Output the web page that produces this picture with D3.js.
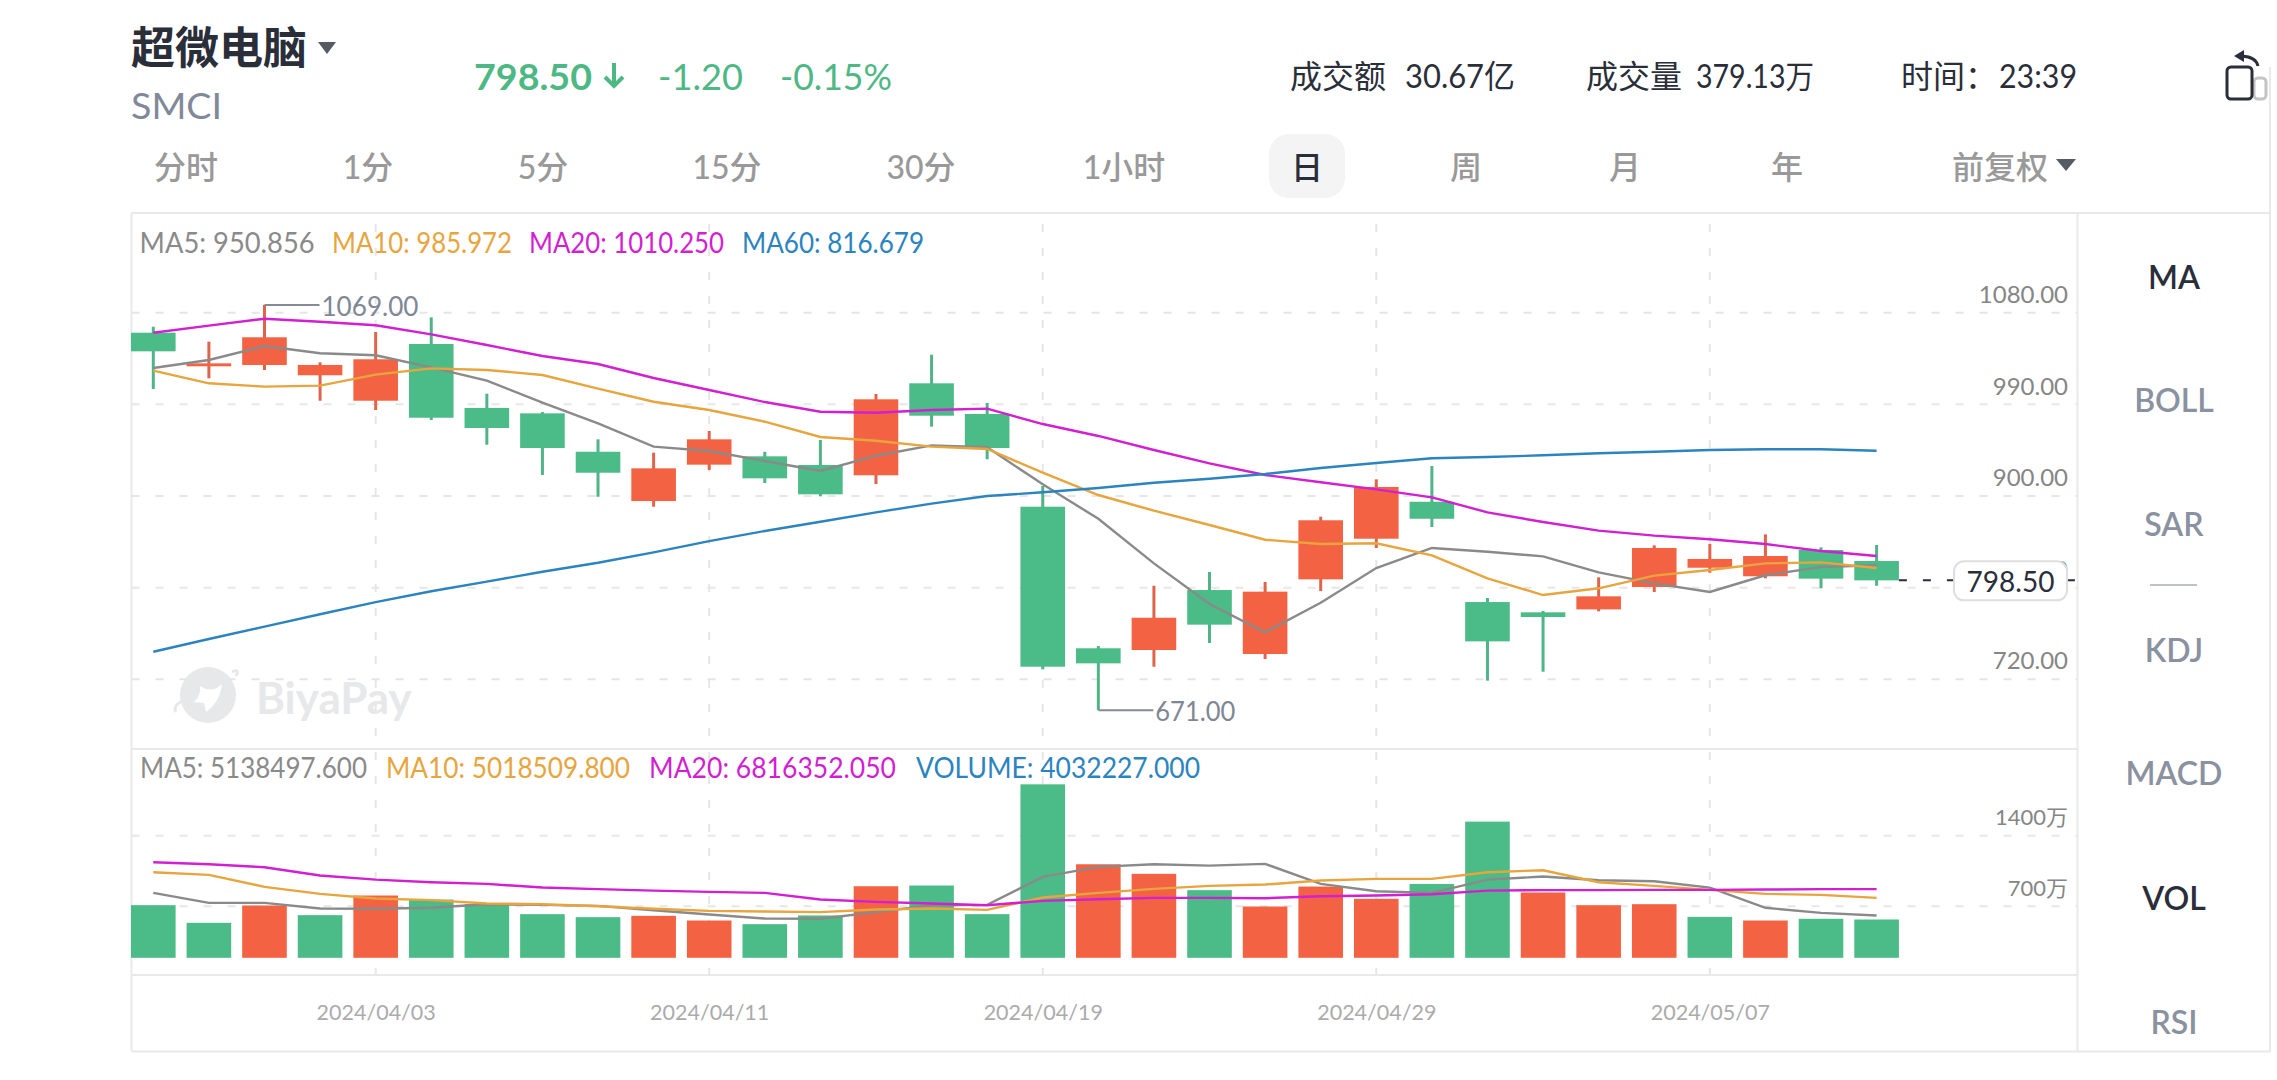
<!DOCTYPE html>
<html><head><meta charset="utf-8">
<script src="https://cdnjs.cloudflare.com/ajax/libs/d3/7.8.5/d3.min.js"></script>
<style>
html,body{margin:0;padding:0;background:#fff;overflow:hidden}
text{font-family:Lato,"Noto Sans CJK SC",sans-serif}
</style></head><body><svg id="c" width="2277" height="1080" xmlns="http://www.w3.org/2000/svg"></svg>
<script>
const dates=["03/27","03/28","04/01","04/02","04/03","04/04","04/05","04/08","04/09","04/10","04/11","04/12","04/15","04/16","04/17","04/18","04/19","04/22","04/23","04/24","04/25","04/26","04/29","04/30","05/01","05/02","05/03","05/06","05/07","05/08","05/09","05/10"].map(d=>"2024/"+d);
const dateTicks=["2024/04/03","2024/04/11","2024/04/19","2024/04/29","2024/05/07"];
const candleOpen=[1041.7,1008.7,1010,999.9,974.9,1030.6,967.8,962.5,924.8,876.4,912.1,920.3,911.8,901.7,992,961.9,870.8,731.8,730.1,789,726.2,799.5,839.4,875.7,777.2,767.1,770,792,810.9,802.5,828.3,817.5];
const candleClose=[1023.4,1011.6,1037.2,1010,1015.6,958.2,948.1,928.5,904.2,908.5,937,898.7,883,976.3,960.2,928.5,713.7,717,761.8,755,787.4,857.5,890.2,859,738.6,762.5,782.8,830.3,819.5,822.4,800.2,798.5];
const candleHigh=[1047.6,1032.9,1069,1012.6,1042.4,1056.8,981.8,963.8,937,923.9,945.2,924.8,936.3,981.5,1020.1,972.7,891.2,734,793.2,806.7,796.9,861,897.7,910.8,781.2,768.4,801.5,832.9,834.2,843.7,830.9,833.2];
const candleLow=[986.4,996.9,1005.1,974.9,965.8,956,931.7,902,880.6,870.8,906.9,894.1,881,893.1,949.4,917.4,711.1,671,713.7,737,721.3,788,830.3,850.9,700,708.8,768.1,787.1,806,800.5,790.7,793.2];
const priceMA5=[1007,1014.9,1028.6,1021.5,1019.5,1007.7,994.6,973,952.7,929.8,925.5,915.7,905.9,920.9,931.1,929.2,892.8,859,815.2,775.3,747.5,776.5,810.6,830.3,826.6,822.1,806.4,795.6,787.1,803.5,811.6,813.3];
const priceMA10=[1004.4,992,988.7,989.7,1000.5,1006.7,1005.1,1000.2,986.7,973.9,965.8,954.3,939.3,935.6,929.8,927.5,904.2,882.3,866.9,852.9,838.4,834.2,834.9,823.1,800.5,784.1,790.7,803.1,808.7,815.2,816.2,810.6];
const priceMA20=[1041.7,1048.6,1055.4,1052.5,1049,1040.1,1029.6,1018.8,1011,997.2,985.4,973.6,964.1,963.1,965.8,967.1,952,940.3,926.5,913.4,902,894.8,887.9,880,865.3,855.8,847.3,842.4,838.8,834.2,827.3,822.4];
const priceMA60=[728.4,740.9,753,765.2,777.2,787.8,797.2,807,815.8,826,837.1,847,856.1,865.3,873.8,881.3,885,889.2,894.4,898.3,902.9,908.8,913.7,918.4,919.6,921.3,923.3,924.8,926.5,927.2,927.2,925.8];
const volume=[522,347,519,423,618,578,532,433,403,416,370,334,420,710,717,433,1721,928,833,671,509,707,585,733,1351,648,522,532,406,370,387,380];
const volumeUp=[0,0,1,0,1,0,0,0,0,1,1,0,0,1,0,0,0,1,1,0,1,1,1,0,0,1,1,1,0,1,0,0];
const volMA5=[644,545,545,489,486,496,532,525,515,472,430,390,387,453,522,525,803,902,928,915,932,733,661,644,776,806,770,760,697,496,446,420];
const volMA10=[849,823,704,634,588,572,539,532,512,486,466,459,453,479,489,476,598,644,684,714,727,767,783,783,849,869,750,714,674,634,624,595];
const volMA20=[948,928,899,816,776,750,733,697,681,667,654,644,578,555,539,522,565,581,595,595,591,611,618,631,667,671,671,674,674,677,681,681];
const priceTicks=[1080,990,900,810,720];
const volTicks=[1400,700];
const priceLegend=[["MA5: 950.856","#8a8a8a"],["MA10: 985.972","#E8A53E"],["MA20: 1010.250","#D21FD2"],["MA60: 816.679","#2B84BF"]];
const volLegend=[["MA5: 5138497.600","#8a8a8a"],["MA10: 5018509.800","#E8A53E"],["MA20: 6816352.050","#D21FD2"],["VOLUME: 4032227.000","#2B84BF"]];
const periods=["分时","1分","5分","15分","30分","1小时","日","周","月","年"];
const indicators=["MA","BOLL","SAR","KDJ","MACD","VOL","RSI"];
const lastPrice=798.5, hiPrice=1069, loPrice=671;

const GREEN="#4BBB87",RED="#F36343",DARK="#2A2E39",GRID="#E6E6E6";
const svg=d3.select("#c");
const x=d3.scalePoint().domain(dates).range([153.3,1876.6]);
const y=d3.scaleLinear().domain([1080,720]).range([293.7,660.3]);
const yv=d3.scaleLinear().domain([0,1400]).range([957.8,816.7]);
const gridShift=19, bw=44.6, chartL=131.5, chartR=2077.5, edgeR=2270;
const ix=i=>x(dates[i]);
function label(g,t,px,py,size,fill,o={}){
  const s=g.append("text").attr("x",px).attr("y",py).attr("font-size",size).attr("fill",fill)
   .attr("text-anchor",o.a||"start").attr("dominant-baseline","central").attr("font-weight",o.w||400).text(t);
  if(o.len) s.attr("textLength",o.len).attr("lengthAdjust","spacingAndGlyphs");
  return s;
}
svg.append("rect").attr("width",2277).attr("height",1080).attr("fill","#fff");

// frame
const f=svg.append("g").attr("stroke","#E9E9E9").attr("stroke-width",2);
[[chartL,213,edgeR,213],[chartL,749,chartR,749],[chartL,975,chartR,975],[chartL,1051.5,edgeR,1051.5],[chartL,213,chartL,1051.5],[chartR,213,chartR,1051.5],[edgeR,67,edgeR,1051.5]]
 .forEach(a=>f.append("line").attr("x1",a[0]).attr("y1",a[1]).attr("x2",a[2]).attr("y2",a[3]));

// grid
const grid=svg.append("g").attr("stroke",GRID).attr("stroke-width",2).attr("stroke-dasharray","8 16");
dateTicks.forEach(d=>grid.append("line").attr("x1",x(d)).attr("x2",x(d)).attr("y1",224).attr("y2",975));
priceTicks.forEach(t=>grid.append("line").attr("x1",chartL).attr("x2",chartR).attr("y1",y(t)+gridShift).attr("y2",y(t)+gridShift));
volTicks.forEach(t=>grid.append("line").attr("x1",chartL).attr("x2",chartR).attr("y1",yv(t)+gridShift).attr("y2",yv(t)+gridShift));

// watermark
const wm=svg.append("g");
wm.append("circle").attr("cx",208).attr("cy",695).attr("r",28).attr("fill","#E7E8EA");
wm.append("path").attr("d","M176 712 Q172 706 184 700 M232 672 Q240 668 236 676").attr("fill","none").attr("stroke","#E7E8EA").attr("stroke-width",3);
wm.append("path").attr("d","M200 686 Q212 694 222 684 Q220 702 206 712 L204 703 L194 702 Q201 696 200 686Z").attr("fill","#fff");
label(wm,"BiyaPay",256,697,44,"#E7E8EA",{w:700});

// axes (labels only)
const axR=d3.axisLeft(y).tickValues(priceTicks).tickFormat(d3.format(".2f")).tickSize(0).tickPadding(0);
const gy=svg.append("g").attr("transform","translate(2068,1)").call(axR);
gy.select(".domain").remove();
gy.selectAll("text").attr("font-size",24).attr("fill","#858585").style("font-family",'Lato,"Noto Sans CJK SC"');
const axV=d3.axisLeft(yv).tickValues(volTicks).tickFormat(d=>d+"万").tickSize(0).tickPadding(0);
const gv=svg.append("g").attr("transform","translate(2068,1)").call(axV);
gv.select(".domain").remove();
gv.selectAll("text").attr("font-size",22).attr("fill","#858585").style("font-family",'Lato,"Noto Sans CJK SC"');
const axD=d3.axisBottom(x).tickValues(dateTicks).tickSize(0).tickPadding(0);
const gd=svg.append("g").attr("transform","translate(0,1005)").call(axD);
gd.select(".domain").remove();
gd.selectAll("text").attr("font-size",21.5).attr("fill","#ABABAB").style("font-family",'Lato,"Noto Sans CJK SC"');

// candles
const cg=svg.append("g");
dates.forEach((d,i)=>{
  const up=candleClose[i]>=candleOpen[i], col=up?RED:GREEN;
  cg.append("line").attr("x1",x(d)).attr("x2",x(d)).attr("y1",y(candleHigh[i])).attr("y2",y(candleLow[i])).attr("stroke",up?"#E0644A":"#50B488").attr("stroke-width",3);
  const a=y(Math.max(candleOpen[i],candleClose[i])),b=y(Math.min(candleOpen[i],candleClose[i]));
  cg.append("rect").attr("x",x(d)-bw/2).attr("width",bw).attr("y",a).attr("height",b-a).attr("fill",col);
});
// volume bars
const vg=svg.append("g");
volume.forEach((v,i)=>vg.append("rect").attr("x",ix(i)-bw/2).attr("width",bw).attr("y",yv(v)).attr("height",yv(0)-yv(v)).attr("fill",volumeUp[i]?RED:GREEN));

// lines
const pl=d3.line().x((d,i)=>ix(i)).y(d=>y(d));
const vl=d3.line().x((d,i)=>ix(i)).y(d=>yv(d));
[[priceMA5,"#8a8a8a"],[priceMA10,"#E8A53E"],[priceMA20,"#D21FD2"],[priceMA60,"#2B84BF"]].forEach(s=>svg.append("path").attr("d",pl(s[0])).attr("fill","none").attr("stroke",s[1]).attr("stroke-width",2.4));
[[volMA5,"#8a8a8a"],[volMA10,"#E8A53E"],[volMA20,"#D21FD2"]].forEach(s=>svg.append("path").attr("d",vl(s[0])).attr("fill","none").attr("stroke",s[1]).attr("stroke-width",2.4));

// hi / lo annotations
const iHi=candleHigh.indexOf(hiPrice), iLo=candleLow.indexOf(loPrice);
const an=svg.append("g");
an.append("line").attr("x1",ix(iHi)).attr("x2",ix(iHi)+55).attr("y1",y(hiPrice)).attr("y2",y(hiPrice)).attr("stroke","#858B96").attr("stroke-width",2);
label(an,"1069.00",ix(iHi)+57,y(hiPrice)+1,26,"#7F8795",{len:97});
an.append("line").attr("x1",ix(iLo)).attr("x2",ix(iLo)+55).attr("y1",y(loPrice)).attr("y2",y(loPrice)).attr("stroke","#858B96").attr("stroke-width",2);
label(an,"671.00",ix(iLo)+57,y(loPrice)+1,26,"#7F8795",{len:80});

// last price
svg.append("line").attr("x1",ix(31)+bw/2).attr("x2",chartR).attr("y1",y(lastPrice)).attr("y2",y(lastPrice)).attr("stroke",DARK).attr("stroke-width",2).attr("stroke-dasharray","8 16");
svg.append("rect").attr("x",1954).attr("y",y(lastPrice)-19).attr("width",113).attr("height",39).attr("rx",10).attr("fill","#fff").attr("stroke","#DEDEDE").attr("stroke-width",2);
label(svg,d3.format(".2f")(lastPrice),2010.5,y(lastPrice)+1,28,DARK,{a:"middle"});

// legends
const pLegX=[139.6,332,529,742], pLegW=[175,180,195,182];
const vLegX=[140,386,649,916], vLegW=[227,244,247,284];
pLegX.forEach((px,i)=>label(svg,priceLegend[i][0],px,242,28.5,priceLegend[i][1],{len:pLegW[i]}));
vLegX.forEach((px,i)=>label(svg,volLegend[i][0],px,766.5,28.5,volLegend[i][1],{len:vLegW[i]}));

// header
label(svg,"超微电脑",131,47,44,DARK,{w:700});
svg.append("path").attr("d","M318 42 H336 L327 54Z").attr("fill","#555A63");
label(svg,"SMCI",131,104,37,"#80889A",{len:91});
label(svg,"798.50",474,76,36,"#4DB884",{w:700,len:118});
svg.append("path").attr("d","M614 63 V86 M605 77 L614 86 L623 77").attr("fill","none").attr("stroke","#4DB884").attr("stroke-width",4);
label(svg,"-1.20",658,76,36,"#4DB884",{len:85});
label(svg,"-0.15%",780,76,36,"#4DB884",{len:112});
label(svg,"成交额",1290,75,32,DARK);
label(svg,"30.67亿",1405,75,32,DARK,{len:110});
label(svg,"成交量",1586,75,32,DARK);
label(svg,"379.13万",1696,75,32,DARK,{len:118});
label(svg,"时间：",1901,75,32,DARK);
label(svg,"23:39",1999,75,32,DARK,{len:78});
// icon
svg.append("rect").attr("x",2254).attr("y",78).attr("width",12).attr("height",21).attr("rx",4).attr("fill","none").attr("stroke","#C4C4C4").attr("stroke-width",3);
svg.append("rect").attr("x",2227).attr("y",67).attr("width",25).attr("height",32).attr("rx",4).attr("fill","#fff").attr("stroke",DARK).attr("stroke-width",3);
svg.append("path").attr("d","M2258 66 Q2256 57 2242 56").attr("fill","none").attr("stroke",DARK).attr("stroke-width",3);
svg.append("path").attr("d","M2234 56 L2244 50 V62Z").attr("fill",DARK);

// period tabs
svg.append("rect").attr("x",1269).attr("y",134).attr("width",76).attr("height",64).attr("rx",20).attr("fill","#F4F4F5");
const tabX=[186,368,543,727,921,1124,1307,1466,1625,1787];
periods.forEach((p,i)=>label(svg,p,tabX[i],166,32,p==="日"?DARK:"#999999",{a:"middle",w:500}));
label(svg,"前复权",2000,166,32,"#999999",{a:"middle",w:500});
svg.append("path").attr("d","M2056 159 H2076 L2066 171Z").attr("fill","#555A63");

// indicator list
const indY=[276,399,523,649,772,897,1021];
indicators.forEach((t,i)=>label(svg,t,2174,indY[i],32,(t==="MA"||t==="VOL")?DARK:"#8A919F",{a:"middle",w:600}));
svg.append("line").attr("x1",2150).attr("x2",2197).attr("y1",585).attr("y2",585).attr("stroke","#A8ACB3").attr("stroke-width",1.5);
</script></body></html>
